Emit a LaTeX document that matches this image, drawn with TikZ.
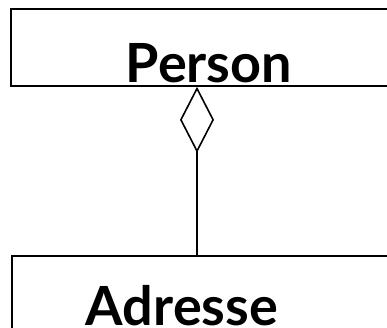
\documentclass[tikz,border=0pt]{standalone}
\usepackage{fontspec}
\setmainfont{Lato}
\usetikzlibrary{arrows.meta,positioning}

\begin{document}
\begin{tikzpicture}[x=1pt, y=-1pt,
    classbox/.style={draw, line width=1.6pt, inner sep=0pt, minimum width=396pt,
                     font=\fontsize{54}{58}\selectfont\bfseries},
    classname/.style={inner sep=0pt, anchor=base, font=\fontsize{54}{58}\selectfont\bfseries},
    aggregation/.style={line width=1.6pt, {Diamond[open, length=66pt, width=34pt, line width=1.6pt]}-}
  ]
    \useasboundingbox (0,0) rectangle (387,328);
    \clip (0,0) rectangle (387,328);
    \node[classbox, text height=74pt, text depth=3pt, anchor=base] (person) at (209,83) {Person};
    \node[classbox, minimum height=100pt, anchor=north west] (adresse) at (11,255) {};
    \node[classname] (adresselabel) at (182,325) {Adresse};
    \coordinate (joint) at (197,0);
    \draw[aggregation] (person.south -| joint) -- (adresse.north -| joint);
  \end{tikzpicture}
\end{document}
